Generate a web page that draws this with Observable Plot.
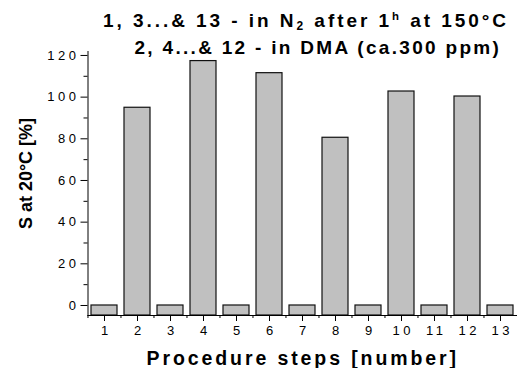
<!DOCTYPE html>
<html>
<head>
<meta charset="utf-8">
<script src="https://cdn.jsdelivr.net/npm/d3@7"></script>
<script src="https://cdn.jsdelivr.net/npm/@observablehq/plot@0.6"></script>
<style>
  html, body { margin: 0; padding: 0; background: #fff; }
  svg { display: block; }
</style>
</head>
<body>
<div id="chart"></div>
<script>
// ---- data ----
const steps = [1, 2, 3, 4, 5, 6, 7, 8, 9, 10, 11, 12, 13];
const saturation = [0, 94.9, 0, 117.3, 0, 111.5, 0, 80.5, 0, 102.7, 0, 100.3, 0];
const yTicks = [0, 20, 40, 60, 80, 100, 120];
const yMinorTicks = [10, 30, 50, 70, 90, 110];
const yDomain = [-4.8, 121.9];
const title1Parts = [["1, 3...& 13 - in N", "n"], ["2", "sub"], [" after 1", "n"], ["h", "sup"], [" at 150°C", "n"]];
const title2Parts = [["2, 4...& 12 - in DMA (ca.300 ppm)", "n"]];
const yLabel = "S at 20°C [%]";
const xLabel = "Procedure steps [number]";

const data = steps.map((s, i) => ({step: String(s), value: saturation[i]}));

const W = 517, H = 368, mL = 87.5, mR = 0, mT = 51, mB = 53;
const bandStep = (W - mL - mR) / steps.length;
const font = "'Liberation Sans', Arial, sans-serif";

const chart = Plot.plot({
  width: W, height: H,
  marginLeft: mL, marginRight: mR, marginTop: mT, marginBottom: mB,
  style: {fontFamily: font, background: "#fff", color: "#000", overflow: "visible"},
  x: {type: "band", domain: steps.map(String), paddingInner: 0.22, paddingOuter: 0.11, axis: null},
  y: {domain: yDomain, axis: null},
  marks: [
    Plot.barY(data, {x: "step", y1: yDomain[0], y2: "value", fill: "#c0c0c0", stroke: "#111", strokeWidth: 1.2}),
    Plot.axisY(yTicks, {tickSize: 7, tickPadding: 1.5, fontSize: 13, stroke: "#000", label: null}),
    Plot.axisY(yMinorTicks, {tickSize: 4, text: null, stroke: "#000", label: null}),
    Plot.axisX(steps.map(String), {tickSize: 6, tickPadding: 4, fontSize: 13, stroke: "#000", label: null}),
    Plot.axisX(steps.map(String), {tickSize: 3, text: null, dx: -bandStep / 2, stroke: "#000", label: null}),
    Plot.frame({anchor: "left", stroke: "#000"}),
    Plot.frame({anchor: "bottom", stroke: "#000"})
  ]
});

document.getElementById("chart").appendChild(chart);
const svg = d3.select(chart);

// letter spacing on tick labels (stretched look of the original)
svg.selectAll('g[aria-label="y-axis tick label"] text').attr("letter-spacing", 3.5);
svg.selectAll('g[aria-label="x-axis tick label"] text').attr("letter-spacing", 3.5).attr("dx", 1.75);

function addTitle(parts, x, y, size, spacing) {
  const t = svg.append("text")
    .attr("x", x).attr("y", y)
    .attr("text-anchor", "start")
    .attr("font-family", font).attr("font-weight", "bold")
    .attr("font-size", size).attr("letter-spacing", spacing).attr("fill", "#000");
  let off = 0;
  parts.forEach(([txt, kind]) => {
    const ts = t.append("tspan").text(txt);
    let target = 0;
    if (kind === "sub") { ts.attr("font-size", size * 0.63); target = 3; }
    if (kind === "sup") { ts.attr("font-size", size * 0.6); target = -7; }
    ts.attr("dy", target - off);
    off = target;
  });
  return t;
}
addTitle(title1Parts, 103, 26.5, 19, 2.95);
addTitle(title2Parts, 134.5, 54, 19, 2.3);

svg.append("text")
  .attr("transform", "translate(31.5,173.5) rotate(-90)")
  .attr("text-anchor", "middle")
  .attr("font-family", font).attr("font-weight", "bold").attr("font-size", 18)
  .attr("fill", "#000")
  .text(yLabel);

svg.append("text")
  .attr("x", (mL + W - mR) / 2 + 0.5).attr("y", 365)
  .attr("text-anchor", "middle")
  .attr("font-family", font).attr("font-weight", "bold").attr("font-size", 19.5)
  .attr("letter-spacing", 2.9).attr("fill", "#000")
  .text(xLabel);
</script>
</body>
</html>
